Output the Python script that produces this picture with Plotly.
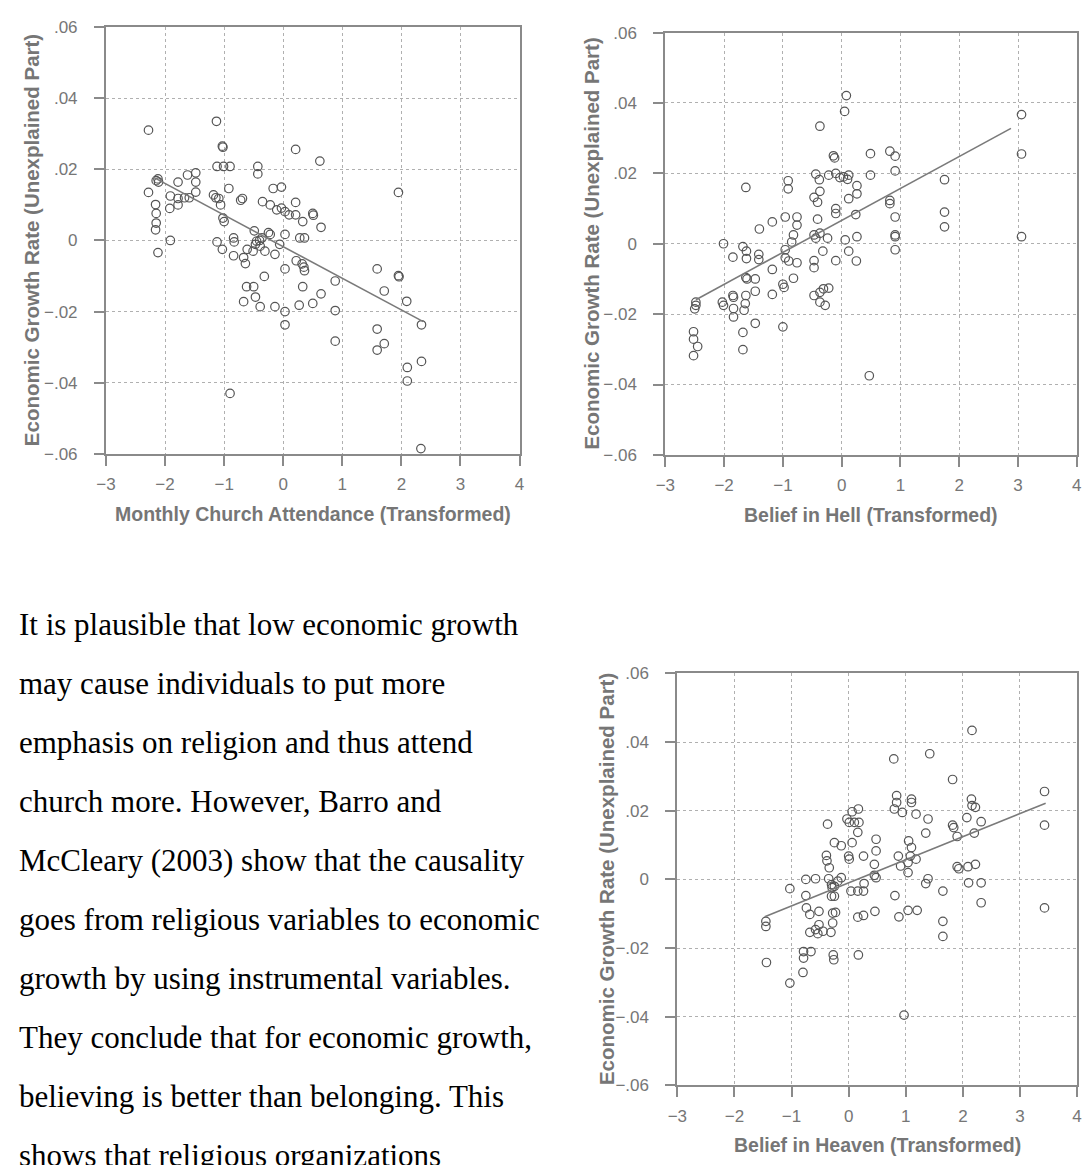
import plotly.graph_objects as go

W, H = 1087, 1165

# ---------------- data ----------------
church_x = [-2.28, -1.13, -1.03, -1.02, -1.12, -1.01, -0.90, -0.43, -0.43, 0.21, 0.62, 1.95,
            -2.28, -2.12, -2.11, -2.15, -1.78, -1.62, -1.48, -1.48, -1.48, -1.91, -1.78, -1.78,
            -1.67, -1.59, -2.16, -2.15, -2.15, -2.16, -1.92, -2.12, -1.91, -1.14, -1.09, -1.06,
            -1.18, -1.02, -1.00, -0.92, -0.72, -0.69, -1.12, -1.03, -0.84, -0.83, -0.84, -0.67,
            -0.64, -0.61, -0.51, -0.47, -0.49, -0.35, -0.22, -0.17, -0.03, -0.11, -0.03, 0.03,
            0.10, 0.21, 0.21, 0.33, 0.50, 0.51, 0.64, 0.03, -0.22, -0.36, -0.45, -0.39,
            -0.31, -0.14, -0.06, -0.25, -0.40, 0.28, 0.36, 0.22, 0.32, 0.35, 0.36, 0.33,
            0.03, 0.03, 0.03, 0.27, 0.50, 0.64, 0.88, 0.88, 0.88, -0.14, -0.39, -0.47,
            -0.50, -0.62, -0.67, -0.32, -0.90, 1.59, 1.71, 1.95, 1.96, 2.09, 1.59, 1.59,
            1.71, 2.10, 2.10, 2.34, 2.34, 2.33]
church_y = [0.0310, 0.0335, 0.0265, 0.0262, 0.0208, 0.0208, 0.0208, 0.0208, 0.0187, 0.0256, 0.0223, 0.0135,
            0.0135, 0.0173, 0.0164, 0.0168, 0.0164, 0.0184, 0.0190, 0.0164, 0.0136, 0.0125, 0.0118, 0.0100,
            0.0120, 0.0120, 0.0101, 0.0076, 0.0049, 0.0030, 0.0090, -0.0034, 0.0000, 0.0120, 0.0118, 0.0100,
            0.0128, 0.0063, 0.0053, 0.0146, 0.0113, 0.0118, -0.0004, -0.0025, 0.0007, -0.0004, -0.0043, -0.0048,
            -0.0065, -0.0025, -0.0030, -0.0011, 0.0027, 0.0109, 0.0100, 0.0146, 0.0150, 0.0086, 0.0091, 0.0081,
            0.0072, 0.0107, 0.0072, 0.0053, 0.0076, 0.0071, 0.0037, 0.0017, 0.0017, 0.0007, -0.0002, -0.0016,
            -0.0030, -0.0039, -0.0011, 0.0022, 0.0000, 0.0007, 0.0007, -0.0057, -0.0066, -0.0075, -0.0085, -0.0130,
            -0.0080, -0.0200, -0.0237, -0.0182, -0.0177, -0.0150, -0.0114, -0.0197, -0.0283, -0.0186, -0.0186, -0.0159,
            -0.0130, -0.0130, -0.0172, -0.0101, -0.0430, -0.0080, -0.0142, -0.0099, -0.0102, -0.0171, -0.0249, -0.0308,
            -0.0290, -0.0357, -0.0395, -0.0237, -0.0340, -0.0585]
church_fit_x = [-2.20, 2.37]
church_fit_y = [0.0178, -0.0228]

hell_x = [0.08, 0.05, -0.37, 3.06, 3.06, 3.06, 0.47, 0.49, 0.82, 0.91, 0.91, 0.49,
          1.75, 1.75, 1.75, 0.82, 0.82, 0.91, 0.91, 0.91, 0.91, -1.63, -0.91, -0.91,
          -0.14, -0.12, -0.22, -0.10, 0.03, 0.12, -0.03, 0.10, -0.44, -0.38, -0.37, -0.47,
          -0.41, 0.12, 0.26, 0.26, -0.10, -0.10, 0.24, -0.41, 0.26, 0.06, 0.12, 0.25,
          -0.10, -0.24, -0.32, -0.47, -0.44, -0.37, -0.47, -0.47, -0.47, -0.37, -0.31, -0.22,
          -0.37, -0.28, -0.96, -0.76, -0.76, -0.82, -0.85, -0.96, -0.96, -0.90, -0.76, -0.82,
          -1.00, -0.98, -1.00, -1.18, -1.40, -1.18, -1.18, -1.47, -1.47, -1.47, -1.41, -1.41,
          -1.68, -1.62, -1.62, -1.85, -2.01, -1.63, -1.61, -1.63, -1.64, -1.66, -1.85, -1.84,
          -2.03, -2.01, -1.84, -1.84, -1.68, -1.68, -2.48, -2.48, -2.50, -2.52, -2.52, -2.45,
          -2.52]
hell_y = [0.0421, 0.0376, 0.0334, 0.0367, 0.0255, 0.0020, -0.0375, 0.0256, 0.0263, 0.0249, 0.0207, 0.0195,
          0.0182, 0.0090, 0.0048, 0.0123, 0.0114, 0.0076, 0.0025, 0.0020, -0.0017, 0.0160, 0.0179, 0.0156,
          0.0250, 0.0244, 0.0195, 0.0200, 0.0190, 0.0195, 0.0188, 0.0183, 0.0198, 0.0182, 0.0149, 0.0132,
          0.0118, 0.0128, 0.0165, 0.0142, 0.0100, 0.0086, 0.0083, 0.0070, 0.0020, 0.0011, -0.0021, -0.0049,
          -0.0048, 0.0016, -0.0021, 0.0025, 0.0016, 0.0030, -0.0048, -0.0068, -0.0147, -0.0138, -0.0128, -0.0126,
          -0.0166, -0.0175, 0.0076, 0.0076, 0.0053, 0.0025, 0.0005, -0.0017, -0.0040, -0.0049, -0.0054, -0.0098,
          -0.0115, -0.0124, -0.0236, 0.0062, 0.0042, -0.0073, -0.0144, -0.0100, -0.0135, -0.0226, -0.0030, -0.0045,
          -0.0008, -0.0021, -0.0042, -0.0038, 0.0000, -0.0096, -0.0100, -0.0147, -0.0170, -0.0189, -0.0147, -0.0152,
          -0.0166, -0.0175, -0.0184, -0.0208, -0.0252, -0.0301, -0.0166, -0.0175, -0.0185, -0.0250, -0.0271, -0.0292,
          -0.0318]
hell_fit_x = [-2.48, 2.88]
hell_fit_y = [-0.0159, 0.0328]

heaven_x = [2.16, 1.42, 0.79, 1.82, 3.43, 3.43, 3.43, 0.97, -1.03, -1.44, -1.45, -1.45,
            -1.03, -0.75, -0.58, -0.75, -0.74, -0.68, -0.52, -0.68, -0.58, -0.54, -0.45, -0.52,
            -0.79, -0.79, -0.66, -0.80, -0.37, -0.39, -0.38, -0.34, -0.25, -0.13, -0.35, -0.30,
            -0.29, -0.25, -0.19, -0.13, -0.30, -0.25, -0.28, -0.23, -0.28, -0.31, -0.27, -0.26,
            -0.03, 0.01, 0.06, 0.10, 0.17, 0.18, 0.16, 0.06, 0.00, 0.01, 0.04, 0.16,
            0.26, 0.27, 0.16, 0.26, 0.46, 0.17, 0.26, 0.48, 0.48, 0.45, 0.45, 0.48,
            0.80, 0.84, 0.84, 0.94, 1.10, 1.10, 1.18, 1.39, 1.35, 0.87, 0.91, 1.04,
            1.05, 1.10, 1.08, 1.04, 1.18, 0.81, 0.88, 1.04, 1.20, 1.35, 1.39, 1.65,
            1.65, 1.65, 1.82, 1.84, 1.90, 1.90, 1.93, 2.07, 2.15, 2.16, 2.22, 2.20,
            2.32, 2.09, 2.22, 2.10, 2.32, 2.32]
heaven_y = [0.0434, 0.0366, 0.0351, 0.0291, 0.0256, 0.0158, -0.0083, -0.0395, -0.0302, -0.0242, -0.0122, -0.0137,
            -0.0027, 0.0000, 0.0002, -0.0047, -0.0083, -0.0102, -0.0093, -0.0154, -0.0146, -0.0158, -0.0151, -0.0132,
            -0.0210, -0.0229, -0.0210, -0.0271, 0.0161, 0.0070, 0.0054, 0.0034, 0.0107, 0.0098, 0.0002, -0.0015,
            -0.0024, -0.0020, -0.0005, 0.0005, -0.0049, -0.0049, -0.0098, -0.0096, -0.0127, -0.0154, -0.0220, -0.0234,
            0.0176, 0.0166, 0.0197, 0.0166, 0.0205, 0.0166, 0.0137, 0.0107, 0.0068, 0.0059, -0.0034, -0.0034,
            -0.0034, -0.0012, -0.0110, -0.0105, -0.0093, -0.0220, 0.0068, 0.0117, 0.0083, 0.0044, 0.0012, 0.0005,
            0.0205, 0.0244, 0.0224, 0.0195, 0.0234, 0.0224, 0.0190, 0.0176, 0.0135, 0.0068, 0.0039, 0.0049,
            0.0112, 0.0093, 0.0068, 0.0020, 0.0059, -0.0047, -0.0109, -0.0090, -0.0090, -0.0012, 0.0002, -0.0034,
            -0.0122, -0.0166, 0.0158, 0.0151, 0.0125, 0.0037, 0.0031, 0.0180, 0.0234, 0.0215, 0.0210, 0.0135,
            0.0168, 0.0037, 0.0044, -0.0010, -0.0010, -0.0068]
heaven_fit_x = [-1.47, 3.45]
heaven_fit_y = [-0.0109, 0.0222]

x_tickvals = [-3, -2, -1, 0, 1, 2, 3, 4]
x_ticktext = ["\u22123", "\u22122", "\u22121", "0", "1", "2", "3", "4"]
y_tickvals = [-0.06, -0.04, -0.02, 0, 0.02, 0.04, 0.06]
y_ticktext = ["\u2212.06", "\u2212.04", "\u2212.02", "0", ".02", ".04", ".06"]

y_title = "Economic Growth Rate (Unexplained Part)"
x_titles = ["Monthly Church Attendance (Transformed)",
            "Belief in Hell (Transformed)",
            "Belief in Heaven (Transformed)"]

paragraph = [
    "It is plausible that low economic growth",
    "may cause individuals to put more",
    "emphasis on religion and thus attend",
    "church more. However, Barro and",
    "McCleary (2003) show that the causality",
    "goes from religious variables to economic",
    "growth by using instrumental variables.",
    "They conclude that for economic growth,",
    "believing is better than belonging. This",
    "shows that religious organizations",
]

# ---------------- layout helpers (pixel boxes: left, top, right, bottom) ----------------
boxes = [(97.3, 18.3, 516.7, 452.3),
         (664.5, 24.0, 1081.7, 453.3),
         (676.7, 675.4, 1082.0, 1094.3)]
ytitle_x = [22, 590, 605]

def xdom(b):
    return [b[0] / W, b[2] / W]

def ydom(b):
    return [1 - b[3] / H, 1 - b[1] / H]

AX = "#8a8a8a"
GRID = "#b0b0b0"
TXT = "#767676"
MARK = "#555555"

fig = go.Figure()
series = [(church_x, church_y, church_fit_x, church_fit_y),
          (hell_x, hell_y, hell_fit_x, hell_fit_y),
          (heaven_x, heaven_y, heaven_fit_x, heaven_fit_y)]

for i, (sx, sy, fx, fy) in enumerate(series):
    n = "" if i == 0 else str(i + 1)
    fig.add_trace(go.Scatter(x=sx, y=sy, mode="markers", xaxis="x" + n, yaxis="y" + n,
                             marker=dict(symbol="circle-open", size=8.5, color=MARK,
                                         line=dict(width=1.2, color=MARK)),
                             showlegend=False, hoverinfo="skip"))
    fig.add_trace(go.Scatter(x=fx, y=fy, mode="lines", xaxis="x" + n, yaxis="y" + n,
                             line=dict(color="#7a7a7a", width=1.6),
                             showlegend=False, hoverinfo="skip"))

tickfont = dict(family="Liberation Sans, Arial, sans-serif", size=17, color=TXT)
layout = dict(width=W, height=H, margin=dict(l=0, r=0, t=0, b=0),
              paper_bgcolor="white", plot_bgcolor="white", showlegend=False)
annotations = []
for i, b in enumerate(boxes):
    n = "" if i == 0 else str(i + 1)
    layout["xaxis" + n] = dict(domain=xdom(b), anchor="y" + n, range=[-3, 4],
                               tickvals=x_tickvals, ticktext=x_ticktext,
                               showline=True, mirror=True, linecolor=AX, linewidth=2,
                               ticks="outside", ticklen=10, tickwidth=1.5, tickcolor=AX,
                               showgrid=True, gridcolor=GRID, griddash="dot", gridwidth=1,
                               zeroline=False, tickfont=tickfont, ticklabelstandoff=4)
    layout["yaxis" + n] = dict(domain=ydom(b), anchor="x" + n, range=[-0.06, 0.06],
                               tickvals=y_tickvals, ticktext=y_ticktext,
                               showline=True, mirror=True, linecolor=AX, linewidth=2,
                               ticks="outside", ticklen=10, tickwidth=1.5, tickcolor=AX,
                               showgrid=True, gridcolor=GRID, griddash="dot", gridwidth=1,
                               zeroline=False, tickfont=tickfont, ticklabelstandoff=13)
    # axis titles
    annotations.append(dict(text="<b>" + y_title + "</b>", textangle=-90,
                            x=ytitle_x[i] / W, y=1 - (b[1] + b[3]) / 2 / H,
                            xref="paper", yref="paper", showarrow=False,
                            xanchor="center", yanchor="middle",
                            font=dict(family="Liberation Sans, Arial, sans-serif", size=20.5, color=TXT)))
    annotations.append(dict(text="<b>" + x_titles[i] + "</b>",
                            x=(b[0] + b[2]) / 2 / W, y=1 - (b[3] + 61) / H,
                            xref="paper", yref="paper", showarrow=False,
                            xanchor="center", yanchor="middle",
                            font=dict(family="Liberation Sans, Arial, sans-serif", size=19.5, color=TXT)))

center0, step = 626, 60
for k, line in enumerate(paragraph):
    yc = center0 + k * step
    annotations.append(dict(text=line, x=7 / W, y=1 - yc / H,
                            xref="paper", yref="paper", showarrow=False,
                            xanchor="left", yanchor="middle",
                            font=dict(family="Liberation Serif, Times New Roman, serif", size=31, color="black")))

layout["annotations"] = annotations
fig.update_layout(**layout)
fig.write_html("out.html")
